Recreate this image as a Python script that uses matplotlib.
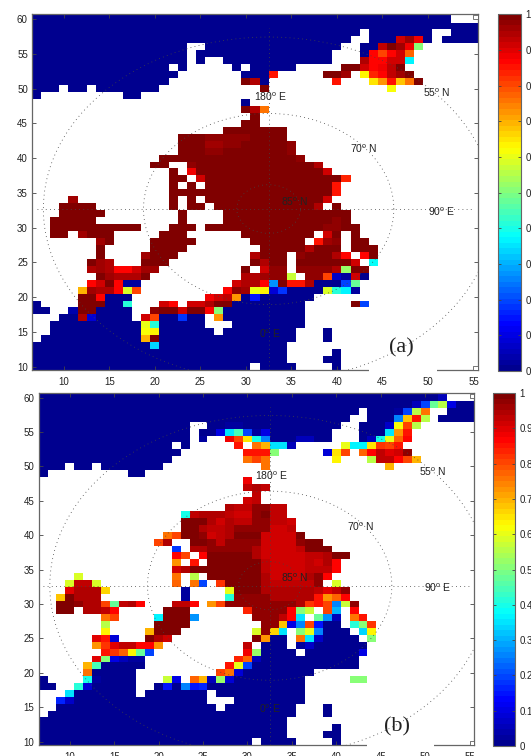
import numpy as np
import matplotlib
matplotlib.use("Agg")
import matplotlib.pyplot as plt
from matplotlib.colors import LinearSegmentedColormap
from matplotlib.patches import Rectangle

plt.rcParams['font.family'] = ['Liberation Sans', 'DejaVu Sans']
plt.rcParams['mathtext.default'] = 'regular'

# grid columns and rows
lon_index = np.arange(7, 56)
lat_index = np.arange(60, 9, -1)

# one string per row, y = 60 first. "a-b:v" is a run of cells, v in percent, gaps are no data
rows_a = [
    "7-52:0",
    "7-55:0",
    "7-42:0 44-50:0 53-55:0",
    "7-41:0 44-46:0 47:92 48:96 49:88 50:0 52-55:0",
    "7-23:0 26-40:0 43-44:0 45:93 46:100 47:96 48:88 49:50",
    "7-23:0 25-39:0 43:0 44:86 45:81 46:87 47:92 48:77",
    "7-23:0 25:0 28-39:0 43:95 44:86 45:87 46:92 47:92 48:36",
    "7-21:0 23:0 29:0 31-35:0 41-42:100 43:92 44:87 45:88 46:93 47:100",
    "7-22:0 30-32:0 33:85 39-40:100 41:96 43:63 44:84 45:87 46:93 47:96 48:100",
    "7-21:0 30:100 31:94 32:0 40:85 44:65 45:72 46:85 47:68 48:75 49:100",
    "7-9:0 11-12:0 14-20:0 32:100 46:62",
    "7:0 17-18:0",
    "30:0",
    "30:100 31:95 32:76",
    "31:100",
    "30-31:100",
    "28-34:100",
    "23-25:100 26-27:97 28-30:98 31-34:100",
    "23-25:100 26-27:96 28:97 29:98 30-34:100 35:98",
    "23-25:100 26-27:98 28-34:100 35:98",
    "21-35:100 36:98",
    "20-21:100 24:97 25-37:100 38:95",
    "22:100 24:88 25-38:100 39:92",
    "22-23:100 25:92 26-40:100 41:84",
    "22:100 24:100 26-39:100 40:85",
    "22-39:100 40:85",
    "11:96 22:100 24:100 26-38:100 39:92",
    "10-13:100 22:100 24-25:100 27-37:100 38:95 40:100",
    "10-14:100 23:100 28-41:100",
    "9-13:100 23:100 28-39:100 40:98 41:100",
    "9-18:100 22-24:100 26-38:100 39-40:97 41-42:100",
    "9-10:100 12:96 13-15:100 21-23:100 30-37:100 39:91 40:100 42:100",
    "14:96 15:100 20-24:100 31-36:100 38:85 39:96 40:98 42-43:100",
    "14:100 20-23:100 32-36:100 37:94 38-40:100 42-44:100",
    "14:100 19:96 20-22:100 31:94 32-34:100 36:98 37-39:100 40:94 41:87 43:87 44:100",
    "13:100 14:96 15:94 19-21:100 31:100 32:94 33-34:100 36-41:100 42:91 44:38",
    "13:94 14:96 15:94 16-17:87 18:92 19-20:96 30:100 32:91 33-34:98 36-39:98 40:94 41:52 42-43:100",
    "14:100 15:96 16-18:94 19:100 30-31:94 32:96 33-34:98 35:57 37-38:98 39:80 40:7 41:2 42:91 43:0",
    "13:87 14:92 15:100 16:87 17-18:3 29:91 30-31:94 32:87 33:27 34:100 35-36:85 37:94 38-40:0 41:20 42:47",
    "12:70 13:96 14-15:94 16:87 17:58 18:80 28:87 29:98 30:96 31:60 32:63 33:8 34:18 35-38:0 39:58 40:42 41:37 42:2",
    "12-13:100 14:87 15-17:0 26:88 27:91 28:93 29:73 30:0 31:15 32-37:0",
    "7:0 12-14:100 15-16:0 17:42 21:91 22:87 24-25:91 26:94 27-28:100 29-36:0 42:100 43:20",
    "7-8:0 11:4 12-13:100 14-17:0 20:98 21-22:100 23:91 24-25:100 26:87 27:50 28-36:0",
    "10-11:0 12:94 13:8 14-17:0 19:91 20:80 21-22:0 23:18 24-25:0 27:72 28-36:0",
    "9-18:0 19:60 20:42 21-25:0 29-36:0",
    "9-18:0 19:62 20:63 21-26:0 28-35:0 39:0",
    "8-18:0 19:70 20:100 21-35:0 39:0",
    "7-19:0 20:33 21-34:0",
    "7-34:0 40:0",
    "7-34:0 39-40:0",
    "7-30:0 32-35:0 40:0",
]

rows_b = [
    "7-51:0 52:5",
    "7-48:0 49:5 50:20 51:47 52:55 53:10 54-55:0",
    "7-42:0 44-46:0 47:3 48:20 49:55 50:75 53-55:0",
    "7-41:0 44-46:0 47:25 48:68 49:85 50:55 52-55:0",
    "7-23:0 26-27:0 28-29:3 30-40:0 43-45:0 46:7 47:62 48:80 49:55",
    "7-23:0 25-26:0 27:10 28:35 29:45 30:20 31:3 32:10 33-39:0 43-45:0 46:35 47:72 48:85",
    "7-23:0 25:2 28:88 29:80 30:65 31:40 32:25 33-35:0 36-37:5 38-39:0 43:0 44:5 45:40 46:60 47:78 48:87",
    "7-21:0 23:0 29:85 31:75 32:70 33-34:35 35:5 41:60 42-43:37 44:65 45:82 46:80 47:85",
    "7-22:0 30-32:85 33:50 39:8 40:65 41:80 43:77 44:87 45:93 46:90 47:92 48:97",
    "7-21:0 30:75 31:80 32:75 40:63 44:55 45-46:93 47:87 48:80 49:70",
    "7-9:0 11-12:0 14-20:0 32:75 46:70",
    "7:0 17-18:0",
    "30:88",
    "30:93 31:95 32:93",
    "31:93",
    "30:92 31:93",
    "28:95 29-30:93 31:97 32:98 33-34:93",
    "23:40 24:93 25-27:95 28:93 29-30:92 31:97 32:100 33-34:93",
    "23-25:100 26:95 27:91 28:95 29-30:93 31-32:97 33-34:93 35:92",
    "23-24:100 25:95 26-27:93 28:95 29-32:97 33-34:91 35:93",
    "21:75 22:80 23-24:100 25:97 26:91 27:93 28:95 29-31:100 32:92 33-34:91 35:92 36:100",
    "20:80 21:95 24-25:100 26:97 27:93 28-31:97 32:92 33-34:91 35:91 36:97 37-38:100",
    "22:18 24-25:95 26-30:97 31:95 32:92 33-34:91 35:91 36:93 37-39:100",
    "22:87 23:80 25:87 26-30:100 31:95 32:92 33-35:91 36:91 37-38:93 39:95 40-41:100",
    "22:72 24:85 26-31:100 32:93 33-35:91 36:91 37:93 38:92 39:95 40:87",
    "22:92 23:95 24-31:100 32:93 33-35:91 36:92 37-39:93 40:87",
    "11:58 22:76 24:56 26-31:100 32:95 33-36:92 37:95 38:97 39:87",
    "10:58 11-12:93 13:58 22:78 24:76 25:20 27:82 28-31:100 32:95 33-37:93 38:97 40:58",
    "10:90 11-13:95 14:66 23:2 28:60 29-31:100 32-37:95 38:93 39:90 40:93 41:97",
    "9:68 10:100 11-13:95 23:2 28:42 29-32:97 33-37:95 38:85 39:72 40:78 41:87",
    "9-10:100 11:97 12-13:95 14:80 15:47 16:93 17:95 18:87 22-23:93 24:87 26:72 27:80 28-35:97 36:95 37:82 38:85 39:80 40:25 41:57 42:97",
    "9-10:100 12-13:95 14:93 15:87 21-23:100 30:83 31-34:98 35:87 36:50 37:57 39:80 40:30 42:87",
    "14:75 15:80 20:36 21-23:100 24:27 31-33:98 34:93 35:87 36:35 38:47 39:27 40:5 42:75 43:85",
    "14:55 20-23:100 32-33:97 34:68 35:10 36:25 37:80 38:15 39-40:0 42:42 43:50 44:82",
    "14:63 19:70 20-22:100 31:58 32:97 33:66 34:35 36:50 37:60 38:25 39-41:0 43:33 44:63",
    "13:90 14:85 15:8 19:100 20:95 21:92 31:100 32:72 33-34:0 36:75 37:35 38:7 39-42:0 44:50",
    "13:73 14:82 15:90 16-17:93 18-19:87 20:72 30:93 32-34:0 36:3 37:7 38-43:0",
    "14:85 15:82 16:78 17:63 18:47 19:20 30:88 31:53 32-35:0 37-42:0 43:10",
    "13:90 14:50 15:10 16:5 17-18:2 29:83 30:77 31:5 32-42:0",
    "12:70 13:45 14-18:0 28:85 29:60 30:20 31-42:0",
    "12:75 13-17:0 27:80 28:75 29:8 30-37:0",
    "7:0 12:40 13:3 14-17:0 21:57 22:10 24:78 25:70 26:5 27:53 28:8 29-36:0 42-43:50",
    "7-8:0 11:42 12:8 13-17:0 20:0 21:15 22:0 23:25 24:15 25:17 26-36:0",
    "10:35 11-17:0 19-25:0 27-36:0",
    "9:17 10:7 11-25:0 29-36:0",
    "9-26:0 28-35:0 39:0",
    "8-35:0 39:0",
    "7-34:0",
    "7-34:0 40:0",
    "7-34:0 39-40:0",
    "7-30:0 32-35:0 40:0",
]

x_ticks = [10, 15, 20, 25, 30, 35, 40, 45, 50, 55]
y_ticks = [10, 15, 20, 25, 30, 35, 40, 45, 50, 55, 60]
bar_ticks = [0, 0.1, 0.2, 0.3, 0.4, 0.5, 0.6, 0.7, 0.8, 0.9, 1]
bar_labels = ["0", "0.1", "0.2", "0.3", "0.4", "0.5", "0.6", "0.7", "0.8", "0.9", "1"]

# polar overlay, pole position and the radii of the latitude circles
pole = (32.5, 32.66)
circle_radii = [3.5, 13.75, 24.75]
map_labels = ["180$^o$ E", "70$^o$ N", "55$^o$ N", "85$^o$ N", "90$^o$ E", "0$^o$ E"]
label_x_a = [32.7, 42.9, 51.0, 35.4, 51.5, 32.6]
label_y_a = [48.8, 41.3, 49.35, 33.7, 32.2, 14.7]
label_x_b = [32.7, 42.8, 50.9, 35.3, 51.4, 32.5]
label_y_b = [48.7, 41.2, 49.2, 33.8, 32.3, 14.8]

W, H = 531, 756

jet = LinearSegmentedColormap.from_list("mjet", [
    (0, (0, 0, 0.5625)), (0.125, (0, 0, 1)), (0.375, (0, 1, 1)),
    (0.625, (1, 1, 0)), (0.875, (1, 0, 0)), (1, (0.5, 0, 0))], N=64)


def read_rows(rows):
    grid = np.full((len(lat_index), len(lon_index)), np.nan)
    for i, row in enumerate(rows):
        for token in row.split():
            cols, val = token.split(":")
            first = int(cols.split("-")[0])
            last = int(cols.split("-")[-1])
            grid[i, first - 7:last - 6] = float(val) / 100
    return np.ma.masked_invalid(grid)


def px_axes(fig, left, right, top, bottom):
    return fig.add_axes([left / W, 1 - bottom / H, (right - left) / W, (bottom - top) / H])


def panel(fig, rows, box, bar_box, label_x, label_y, tag, tag_pos):
    ax = px_axes(fig, *box)
    x_edges = np.arange(6.5, 56)
    y_edges = np.arange(9.5, 61)
    y_edges[-1] = 60.68
    mesh = ax.pcolormesh(x_edges, y_edges, read_rows(rows)[::-1], cmap=jet, vmin=0, vmax=1)
    ax.set_xlim(6.5, 55.5)
    ax.set_ylim(9.5, 60.68)

    # dotted polar grid
    t = np.linspace(0, 2 * np.pi, 361)
    for r in circle_radii:
        ax.plot(pole[0] + r * np.cos(t), pole[1] + r * np.sin(t), color="#444444",
                lw=0.6, ls=(0, (1, 4)))
    ax.plot([7, 55], [pole[1], pole[1]], color="#444444", lw=0.6, ls=(0, (1, 4)))
    ax.plot([pole[0], pole[0]], [9.5, 58.7], color="#444444", lw=0.6, ls=(0, (1, 4)))

    for s, lx, ly in zip(map_labels, label_x, label_y):
        ax.text(lx, ly, s, fontsize=7.5, ha="center", va="center", color="#222222")
    ax.text(tag_pos[0], tag_pos[1], tag, fontsize=16, family="Liberation Serif",
            ha="center", va="center", color="#222222")

    ax.set_xticks(x_ticks)
    ax.set_yticks(y_ticks)
    ax.tick_params(direction="in", top=True, right=True, length=3, width=0.6,
                   color="#444444", labelsize=7, labelcolor="#222222", pad=3)
    ax.tick_params(axis="x", pad=5)
    for s in ax.spines.values():
        s.set_color("#666666")
        s.set_linewidth(0.9)

    # little boxes in the right corners and the gap in the bottom axis
    for corner in [(55, 60), (55, 9.5)]:
        ax.add_patch(Rectangle(corner, 0.5, 0.6, fc="white", ec="#777777", lw=0.7, zorder=4))
    ax.add_patch(Rectangle((43.5, 9.2), 7.5, 0.9, fc="white", ec="none", clip_on=False, zorder=5))

    cax = px_axes(fig, *bar_box)
    cb = fig.colorbar(mesh, cax=cax, ticks=bar_ticks)
    cb.ax.set_yticklabels(bar_labels)
    cb.ax.tick_params(direction="in", left=True, right=True, length=2.5, width=0.6,
                      color="#444444", labelsize=7, labelcolor="#222222", pad=3)
    cb.outline.set_edgecolor("#666666")
    cb.outline.set_linewidth(0.8)
    return ax


fig = plt.figure(figsize=(W / 100, H / 100), dpi=100)
panel(fig, rows_a, (32, 478, 14.3, 370), (498, 521, 14.3, 371), label_x_a, label_y_a, "(a)", (47.1, 12.7))
panel(fig, rows_b, (38.7, 474, 393, 745), (493, 515, 393, 746), label_x_b, label_y_b, "(b)", (46.8, 12.2))
fig.savefig("out.png", dpi=100)
